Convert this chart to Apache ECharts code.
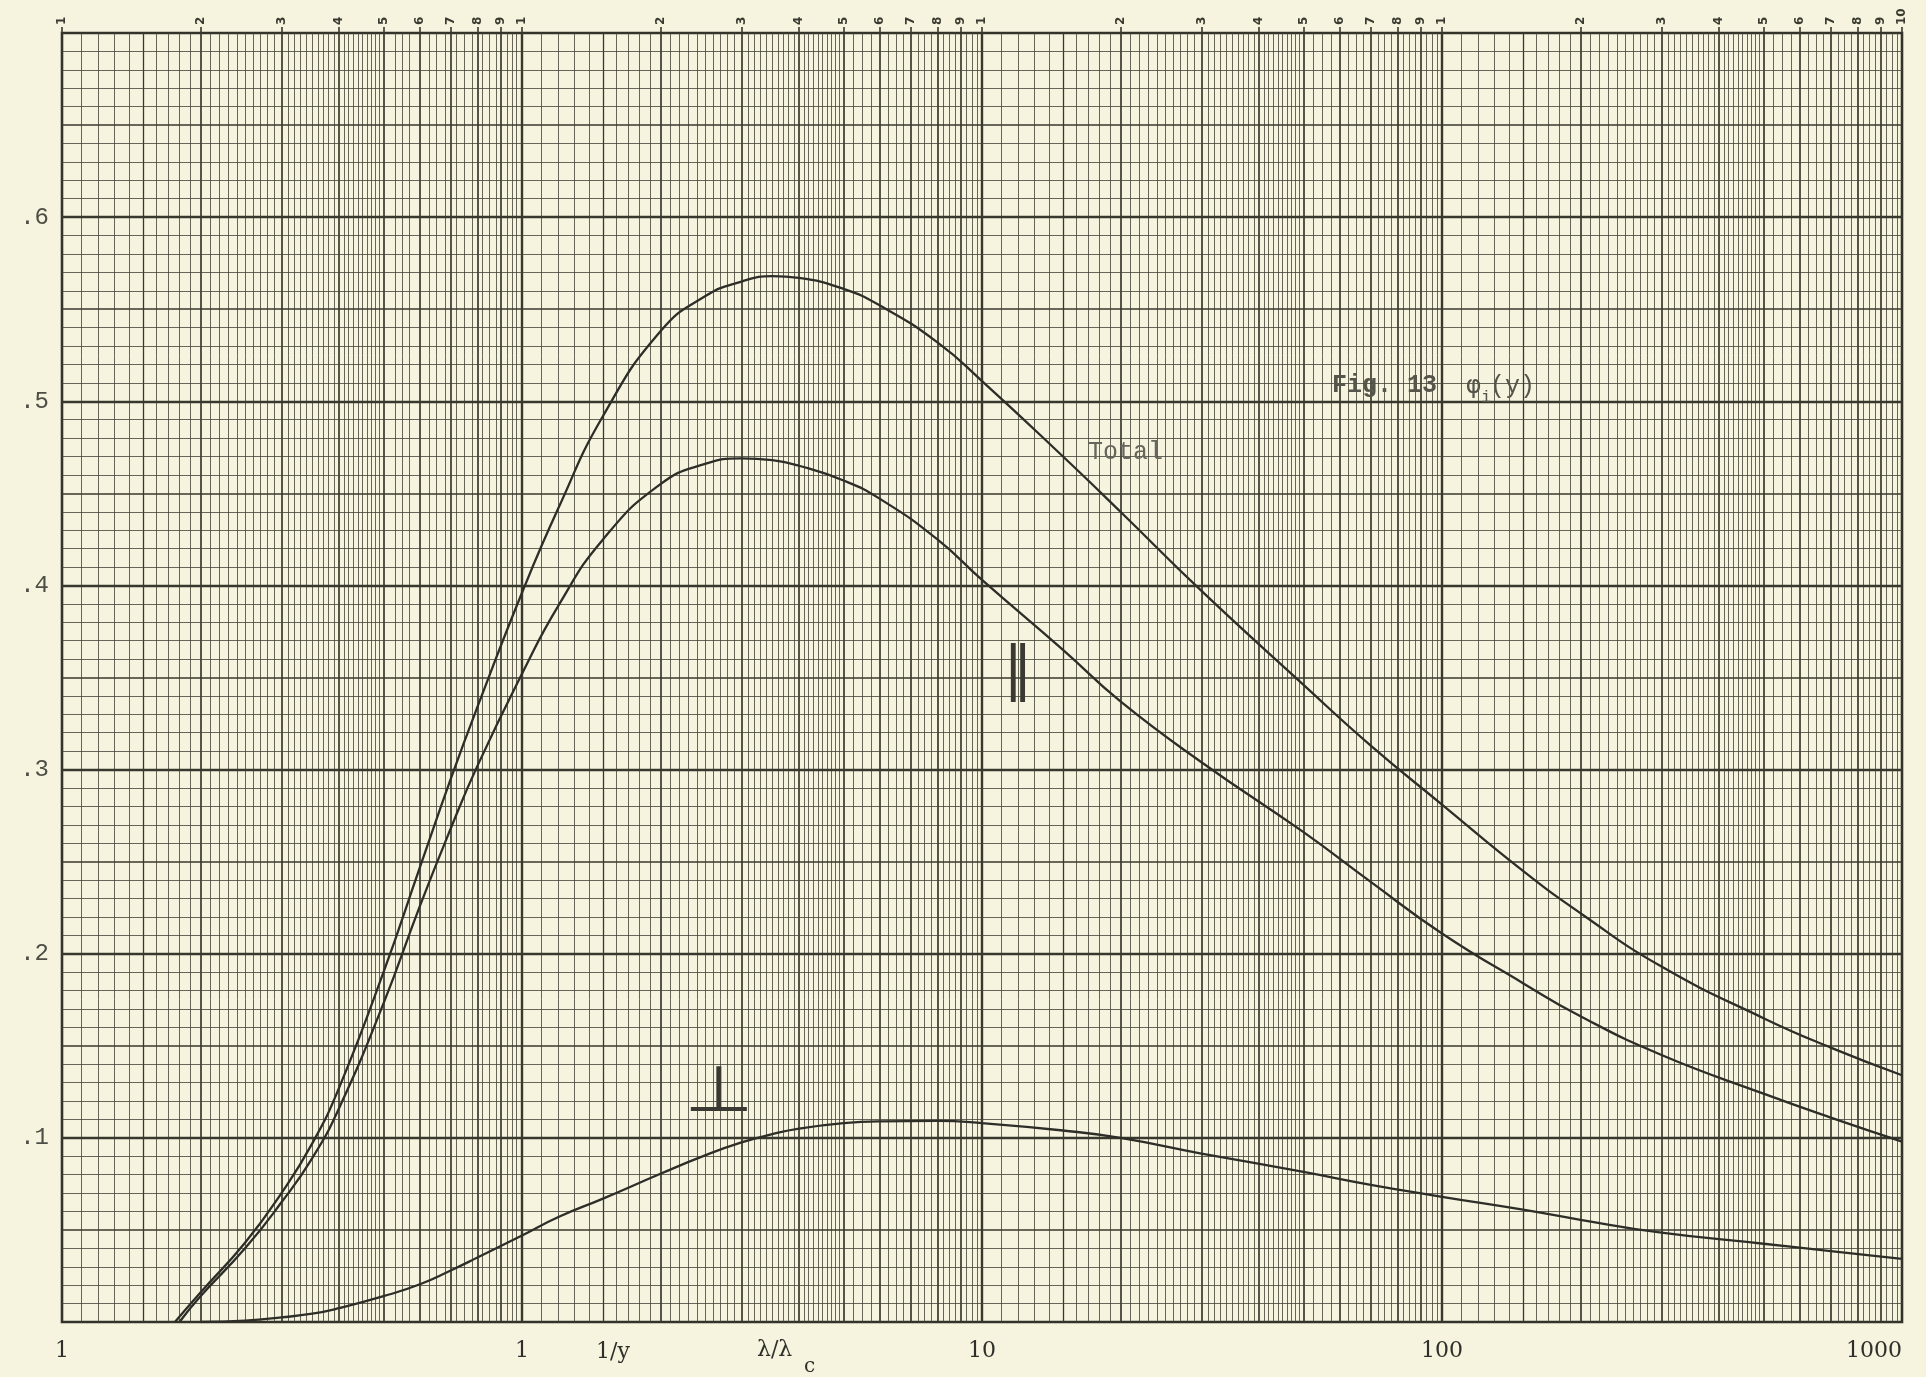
<!DOCTYPE html>
<html>
<head>
<meta charset="utf-8">
<script src="https://cdn.jsdelivr.net/npm/echarts@6/dist/echarts.min.js"></script>
<style>
  html, body { margin: 0; padding: 0; background: #f6f4df; }
  #chart { width: 1926px; height: 1377px; }
</style>
</head>
<body>
<div id="chart"></div>
<script>
// ---- data ----
const totalCurve = [[0.176,0],[0.2,0.016],[0.25,0.043],[0.3,0.070],[0.35,0.097],[0.4,0.127],[0.5,0.190],[0.6,0.247],[0.7,0.295],[0.8,0.334],[1.0,0.396],[1.2,0.442],[1.5,0.492],[2.0,0.538],[2.5,0.557],[3.0,0.565],[3.5,0.568],[4,0.567],[5,0.561],[6,0.552],[8,0.532],[10,0.511],[15,0.470],[20,0.440],[30,0.397],[50,0.346],[70,0.313],[100,0.281],[150,0.245],[200,0.222],[300,0.193],[500,0.165],[700,0.149],[1000,0.134]];
const parallelCurve = [[0.18,0],[0.2,0.014],[0.25,0.040],[0.3,0.065],[0.35,0.089],[0.4,0.116],[0.5,0.173],[0.6,0.226],[0.7,0.268],[0.8,0.302],[1.0,0.352],[1.2,0.389],[1.5,0.425],[2.0,0.455],[2.5,0.466],[3.0,0.469],[3.5,0.468],[4,0.465],[5,0.457],[6,0.447],[8,0.425],[10,0.403],[15,0.365],[20,0.337],[30,0.304],[50,0.266],[70,0.239],[100,0.211],[150,0.184],[200,0.166],[300,0.145],[500,0.124],[700,0.111],[1000,0.098]];
const perpCurve = [[0.2,0],[0.25,0.0008],[0.3,0.0025],[0.35,0.0045],[0.4,0.0075],[0.5,0.014],[0.6,0.0205],[0.7,0.028],[0.8,0.035],[1.0,0.047],[1.2,0.057],[1.5,0.067],[2,0.0805],[2.5,0.0905],[3,0.0975],[3.5,0.102],[4,0.105],[5,0.108],[6,0.109],[8,0.1092],[10,0.108],[15,0.104],[20,0.100],[30,0.0915],[50,0.0815],[70,0.0745],[100,0.068],[150,0.061],[200,0.0555],[300,0.0485],[500,0.0425],[700,0.0385],[1000,0.0343]];

const xTickValues = [0.1, 1, 10, 100, 1000];
const xTickLabels = ['1', '1', '10', '100', '1000'];
const yTickValues = [0.1, 0.2, 0.3, 0.4, 0.5, 0.6];
const yTickLabels = ['.1', '.2', '.3', '.4', '.5', '.6'];
const decadeBases = [0.1, 1, 10, 100];
const topDigits = ['1','2','3','4','5','6','7','8','9'];

// ---- log-paper rulings (positions in data units, drawn through the axes) ----
const lineDark = '#38382e';
const lineLight = 'rgba(66,66,54,0.85)';
function paperRulings() {
  const out = [];
  decadeBases.forEach(function (d, di) {
    const mant = [];
    for (let k = 10; k < 50; k++) mant.push(k / 10);
    for (let j = 20; j < 40; j++) mant.push(j / 4);
    mant.forEach(function (m) {
      if (di === 0 && m === 1) return;
      let w = 0.95, c = lineLight;
      if (m === 1) { w = 2.4; c = lineDark; }
      else if (Math.abs(m - Math.round(m)) < 1e-9) { w = 1.7; c = lineDark; }
      else if (m === 1.5) { w = 1.3; c = lineDark; }
      out.push({ xAxis: +(d * m).toPrecision(6), lineStyle: { width: w, color: c, type: 'solid' } });
    });
  });
  for (let k = 1; k < 70; k++) {
    let w = 0.95, c = lineLight;
    if (k % 10 === 0) { w = 2.4; c = lineDark; }
    else if (k % 5 === 0) { w = 1.6; c = lineDark; }
    out.push({ yAxis: k / 100, lineStyle: { width: w, color: c, type: 'solid' } });
  }
  return out;
}
function topTickValues() {
  const v = [];
  decadeBases.forEach(function (d) { for (let m = 1; m <= 9; m++) v.push(+(d * m).toPrecision(6)); });
  v.push(1000);
  return v;
}
function labelFor(values, labels, val) {
  for (let i = 0; i < values.length; i++) {
    if (Math.abs(Math.log10(values[i]) - Math.log10(val)) < 1e-6) return labels[i];
  }
  return '';
}

const chart = echarts.init(document.getElementById('chart'), null, { renderer: 'canvas' });
const curveStyle = { color: '#2e2e28', width: 2.3 };
const textColor = '#4e4e46';

chart.setOption({
  backgroundColor: '#f6f4df',
  animation: false,
  grid: { left: 62, right: 24, top: 33, bottom: 55, show: true, borderColor: '#33332a', borderWidth: 2.6, backgroundColor: 'transparent' },
  xAxis: [
    {
      type: 'log', logBase: 10, min: 0.1, max: 1000, position: 'bottom',
      axisLine: { show: false }, axisTick: { show: false }, splitLine: { show: false },
      axisLabel: {
        margin: 18, fontFamily: 'DejaVu Serif', fontSize: 22, color: '#2f2f2a',
        alignMaxLabel: 'right',
        formatter: function (v) { return labelFor(xTickValues, xTickLabels, v); }
      }
    },
    {
      type: 'log', logBase: 10, min: 0.1, max: 1000, position: 'top',
      axisLine: { show: false }, splitLine: { show: false },
      axisTick: { show: true, customValues: topTickValues(), length: 6, inside: false, lineStyle: { color: lineDark, width: 1.6 } },
      axisLabel: {
        customValues: topTickValues(), rotate: -90, margin: 8, fontFamily: 'DejaVu Sans', fontSize: 12, fontWeight: 'bold', color: '#3a3a30',
        formatter: function (v) {
          if (Math.abs(v - 1000) < 1e-6) return '10';
          const e = Math.floor(Math.log10(v) + 1e-9);
          const m = Math.round(v / Math.pow(10, e));
          return topDigits[m - 1] || '';
        }
      }
    }
  ],
  yAxis: {
    type: 'value', min: 0, max: 0.7, interval: 0.1,
    axisLine: { show: false }, axisTick: { show: false }, splitLine: { show: false },
    axisLabel: {
      margin: 13, fontFamily: 'Liberation Mono', fontSize: 24, color: textColor,
      formatter: function (v) {
        for (let i = 0; i < yTickValues.length; i++) if (Math.abs(yTickValues[i] - v) < 1e-6) return yTickLabels[i];
        return '';
      }
    }
  },
  series: [
    {
      name: 'paper', type: 'line', data: [[1, 0]], showSymbol: false, silent: true,
      lineStyle: { width: 0 }, z: 1,
      markLine: { silent: true, symbol: ['none', 'none'], label: { show: false }, animation: false, emphasis: { disabled: true }, data: paperRulings() }
    },
    { name: 'Total', type: 'line', data: totalCurve, smooth: 0.5, showSymbol: false, lineStyle: curveStyle, z: 5 },
    { name: '∥', type: 'line', data: parallelCurve, smooth: 0.5, showSymbol: false, lineStyle: curveStyle, z: 5 },
    { name: '⊥', type: 'line', data: perpCurve, smooth: 0.5, showSymbol: false, lineStyle: curveStyle, z: 5 }
  ],
  graphic: [
    { type: 'text', z: 100, x: 1332, y: 386, style: { text: 'Fig. 13', font: 'bold 25px "Liberation Mono"', fill: '#55554c', verticalAlign: 'middle' } },
    { type: 'text', z: 100, x: 1466, y: 386, style: { text: 'φ', font: '25px "DejaVu Sans Mono"', fill: '#55554c', verticalAlign: 'middle' } },
    { type: 'text', z: 100, x: 1481, y: 397, style: { text: 'i', font: '17px "Liberation Mono"', fill: '#55554c', verticalAlign: 'middle' } },
    { type: 'text', z: 100, x: 1490, y: 386, style: { text: '(y)', font: '25px "Liberation Mono"', fill: '#55554c', verticalAlign: 'middle' } },
    { type: 'text', z: 100, x: 1088, y: 452, style: { text: 'Total', font: '25px "Liberation Mono"', fill: '#66665c', verticalAlign: 'middle' } },
    { type: 'text', z: 100, x: 1018, y: 673, style: { text: '‖', font: '58px "DejaVu Sans"', fill: '#3a3a33', align: 'center', verticalAlign: 'middle' } },
    { type: 'text', z: 100, x: 719, y: 1094, scaleX: 1.25, style: { text: '⊥', font: '64px "DejaVu Sans"', fill: '#3a3a33', align: 'center', verticalAlign: 'middle' } },
    { type: 'text', z: 100, x: 613, y: 1352, style: { text: '1/y', font: '22px "DejaVu Serif"', fill: '#2f2f2a', align: 'center', verticalAlign: 'middle' } },
    { type: 'text', z: 100, x: 757, y: 1350, style: { text: 'λ/λ', font: '22px "DejaVu Serif"', fill: '#2f2f2a', verticalAlign: 'middle' } },
    { type: 'text', z: 100, x: 804, y: 1367, style: { text: 'c', font: '20px "DejaVu Serif"', fill: '#2f2f2a', verticalAlign: 'middle' } }
  ]
});
</script>
</body>
</html>
